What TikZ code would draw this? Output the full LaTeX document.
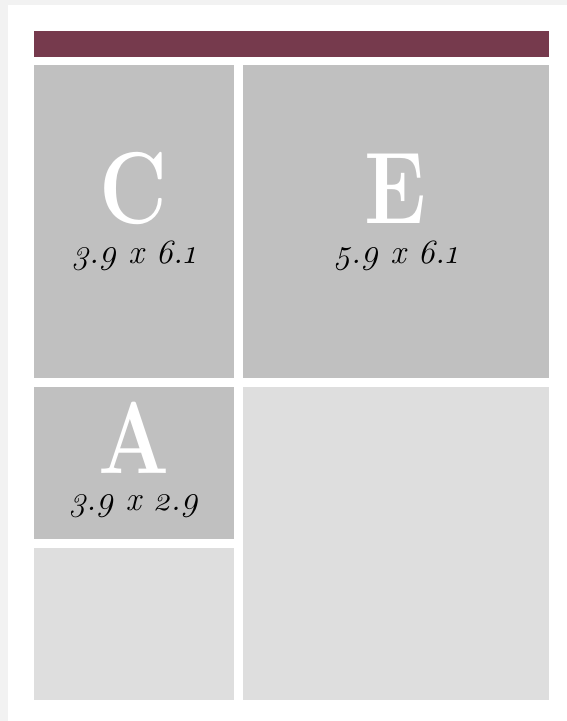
\documentclass[tikz,border=0pt]{standalone}
\usepackage{fontspec}
\setmainfont{Latin Modern Roman}[Numbers=OldStyle]
\usepackage{xcolor}
\usepackage{graphicx}
\definecolor{page-gray}{RGB}{242,242,242}
\definecolor{bar-wine}{RGB}{118,58,77}
\definecolor{cell-dark}{RGB}{192,192,192}
\definecolor{cell-light}{RGB}{222,222,222}
\usetikzlibrary{positioning}

\newcommand{\cellletter}[1]{\scalebox{0.82}[1]{#1}}

\tikzset{
  cell/.style={inner sep=0pt, outer sep=0pt, anchor=north west},
  dkcell/.style={cell, fill=cell-dark},
  ltcell/.style={cell, fill=cell-light},
  letter/.style={anchor=base, inner sep=0pt, text=white, font=\fontsize{102}{102}\selectfont\bfseries},
  dims/.style={anchor=base, inner sep=0pt, text=black, font=\fontsize{34}{34}\selectfont\itshape}
}

\begin{document}
\begin{tikzpicture}[x=1pt,y=-1pt]
    \fill[page-gray] (0,0) rectangle (567,721);
    \fill[white] (8,5) rectangle (567,721);

    % header bar
    \node[cell, fill=bar-wine, minimum width=515pt, minimum height=26pt] (bar) at (33.5,30.5) {};

    % top row
    \node[dkcell, minimum width=200.5pt, minimum height=312.5pt] (boxC) at (33.5,65) {};
    \node[dkcell, minimum width=305.5pt, minimum height=312.5pt] (boxE) at (243,65) {};
    \node[letter] (letC) at ([yshift=-2pt]boxC.center) {\cellletter{C}};
    \node[dims] (dimC) at ([yshift=-42pt]boxC.center) {3.9 x 6.1};
    \node[letter] (letE) at ([yshift=-2pt]boxE.center) {\cellletter{E}};
    \node[dims] (dimE) at ([yshift=-42pt]boxE.center) {5.9 x 6.1};

    % bottom rows
    \node[dkcell, minimum width=200.5pt, minimum height=152pt] (boxA) at (33.5,387) {};
    \node[ltcell, minimum width=200.5pt, minimum height=152pt] (boxB) at (33.5,548) {};
    \node[ltcell, minimum width=305.5pt, minimum height=313pt] (boxD) at (243,387) {};
    \node[letter] (letA) at ([yshift=-10pt]boxA.center) {\cellletter{A}};
    \node[dims] (dimA) at ([yshift=-47pt]boxA.center) {3.9 x 2.9};
\end{tikzpicture}
\end{document}
